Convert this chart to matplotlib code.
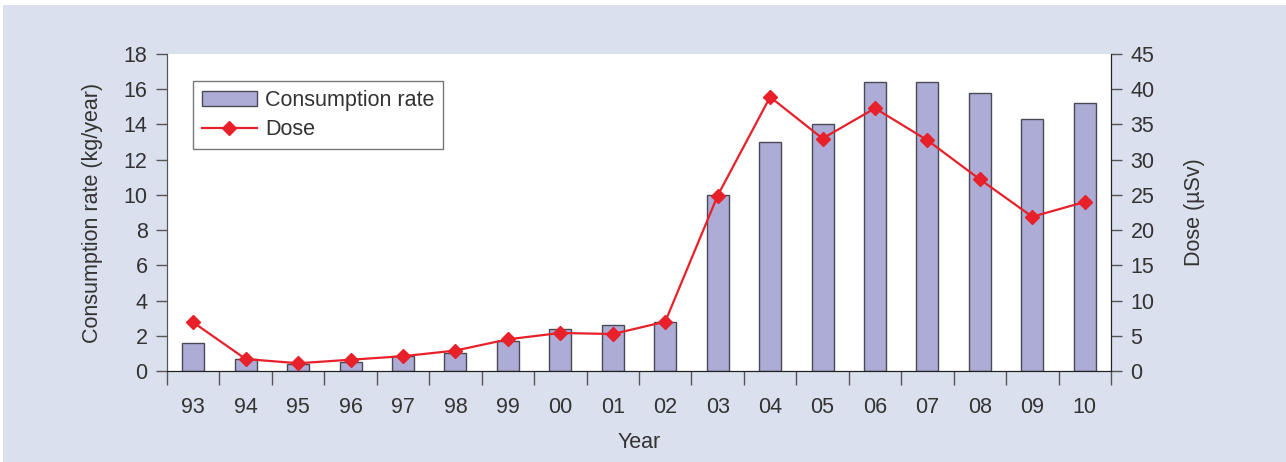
import matplotlib.pyplot as plt
import numpy as np
from matplotlib.patches import Rectangle

plt.rcParams['font.family'] = ['Liberation Sans', 'DejaVu Sans']

# Годовые данные
years = ['93', '94', '95', '96', '97', '98', '99', '00', '01', '02',
         '03', '04', '05', '06', '07', '08', '09', '10']
consumption = [1.6, 0.7, 0.4, 0.5, 0.85, 1.05, 1.7, 2.4, 2.6, 2.8,
               10.0, 13.0, 14.0, 16.4, 16.4, 15.8, 14.3, 15.2]
dose = [6.9, 1.7, 1.1, 1.6, 2.1, 2.9, 4.5, 5.4, 5.25, 7.0,
        24.9, 38.9, 33.0, 37.3, 32.75, 27.2, 21.9, 24.0]

bg = '#dbe0ee'
txt = '#333333'
fs = 15.5

fig = plt.figure(figsize=(12.86, 4.62), dpi=100, facecolor='white')
# светлая подложка с узкой белой каймой сверху и слева
fig.patches.append(Rectangle((3 / 1286, 0), 1, 457 / 462, transform=fig.transFigure,
                             facecolor=bg, edgecolor='none', zorder=-10))

ax = fig.add_axes([167 / 1286, (462 - 371) / 462, (1111 - 167) / 1286, (371 - 54) / 462])
ax2 = ax.twinx()

x = np.arange(len(years))
bars = ax.bar(x, consumption, width=0.42, color='#acacd6', edgecolor='#4a4a55',
              linewidth=1.0, label='Consumption rate', zorder=2)

line, = ax2.plot(x, dose, color='#e8202a', linewidth=1.6, marker='D', markersize=7,
                 label='Dose', zorder=3)

ax.set_xlim(-0.5, len(years) - 0.5)
ax.set_ylim(0, 18)
ax.set_yticks(np.arange(0, 19, 2))
ax2.set_ylim(0, 45)
ax2.set_yticks(np.arange(0, 46, 5))

ax.set_xticks(x)
ax.set_xticklabels(years)
ax.set_xticks(np.arange(-0.5, len(years), 1), minor=True)
ax.tick_params(axis='x', which='major', length=0, pad=19, labelsize=fs, labelcolor=txt)
ax.tick_params(axis='x', which='minor', length=10, width=1, color='#555555', direction='out')
ax.tick_params(axis='y', length=8, width=1, color='#555555', direction='out',
               labelsize=fs, labelcolor=txt, pad=6)
ax2.tick_params(axis='y', length=8, width=1, color='#555555', direction='out',
                labelsize=fs, labelcolor=txt, pad=6)

for a in (ax, ax2):
    a.spines['top'].set_visible(False)
    a.spines['left'].set_color('#555555')
    a.spines['bottom'].set_color('#222222')
    a.spines['right'].set_color('#222222')

ax.set_xlabel('Year', fontsize=fs, color=txt, labelpad=10)
ax.set_ylabel('Consumption rate (kg/year)', fontsize=fs, color=txt, labelpad=15)
ax2.set_ylabel('Dose (µSv)', fontsize=fs, color=txt, labelpad=21)

ax.set_zorder(1)
ax2.set_zorder(2)
ax2.patch.set_visible(False)

leg = ax2.legend([bars, line], ['Consumption rate', 'Dose'], loc='upper left',
                 bbox_to_anchor=(26 / 944, 1 - 27 / 317), borderaxespad=0, fontsize=fs,
                 frameon=True, fancybox=False, handlelength=2.55, borderpad=0.4,
                 labelspacing=0.4, handletextpad=0.4)
leg.get_frame().set_edgecolor('#555555')
leg.get_frame().set_linewidth(1.0)
for t in leg.get_texts():
    t.set_color(txt)

fig.savefig('out.png', dpi=100, facecolor='white')
